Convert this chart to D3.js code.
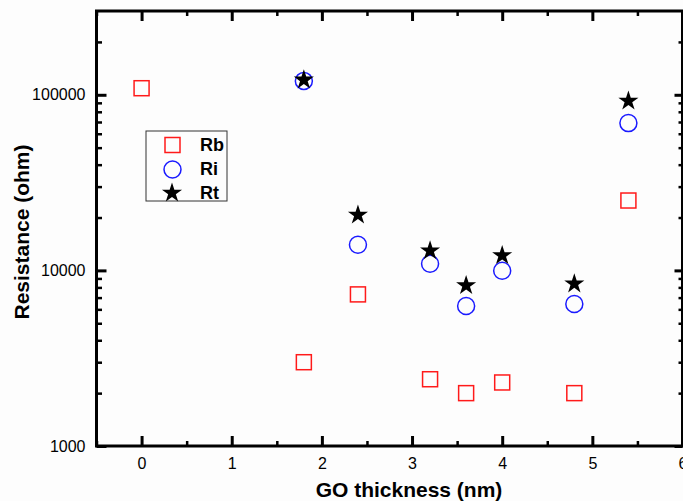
<!DOCTYPE html>
<html>
<head>
<meta charset="utf-8">
<script src="https://cdn.jsdelivr.net/npm/d3@7"></script>
<style>
  body { margin: 0; background: #fdfdfd; }
  svg { display: block; font-family: "Liberation Sans", Arial, sans-serif; }
  .tick text { font-size: 16px; fill: #000; }
  .tick line { stroke: #000; }
</style>
</head>
<body>
<div id="chart"></div>
<script>
// GO thickness (nm) for each sample
const thicknessRb = [0, 1.8, 2.4, 3.2, 3.6, 4.0, 4.8, 5.4];
const thicknessRiRt = [1.8, 2.4, 3.2, 3.6, 4.0, 4.8, 5.4];

// resistances (ohm)
const rbValues = [109000, 3000, 7300, 2400, 2000, 2300, 2000, 25000];
const riValues = [120000, 14000, 10900, 6270, 9950, 6430, 69000];
const rtValues = [124000, 21100, 13200, 8360, 12400, 8550, 94000];

const xTicks = [0, 1, 2, 3, 4, 5, 6];
const xMinorTicks = [-0.5, 0.5, 1.5, 2.5, 3.5, 4.5, 5.5];
const yTicks = [1000, 10000, 100000];
const yMinorTicks = [2000, 3000, 4000, 5000, 6000, 7000, 8000, 9000,
  20000, 30000, 40000, 50000, 60000, 70000, 80000, 90000, 200000];

const width = 683;
const height = 501;
const plotLeft = 96.5, plotRight = 682.5, plotTop = 11, plotBottom = 446;

const svg = d3.select('#chart').append('svg')
  .attr('width', width)
  .attr('height', height);

const x = d3.scaleLinear().domain([-0.5, 6]).range([plotLeft, plotRight]);
const y = d3.scaleLog().domain([1000, 300000]).range([plotBottom, plotTop]);

// ticks all point into the plot, so tick sizes are negative
function drawAxis(axis, tx, ty, major, minor, values, minorValues, labels) {
  const g = svg.append('g').attr('transform', `translate(${tx},${ty})`);
  g.call(axis.tickValues(values).tickSize(major).tickPadding(labels ? 12 : 0)
    .tickFormat(labels ? d3.format('d') : ''));
  g.selectAll('.tick line').attr('stroke-width', 3);
  g.select('.domain').remove();
  const gm = svg.append('g').attr('transform', `translate(${tx},${ty})`);
  gm.call(axis.tickValues(minorValues).tickSize(minor).tickFormat(''));
  gm.selectAll('.tick line').attr('stroke-width', 2.5);
  gm.select('.domain').remove();
  return g;
}

drawAxis(d3.axisBottom(x), 0, plotBottom, -10, -5, xTicks, xMinorTicks, true);
drawAxis(d3.axisTop(x), 0, plotTop, -10, -5, xTicks, xMinorTicks, false);
const yAxisG = drawAxis(d3.axisLeft(y), plotLeft, 0, -10, -5.5, yTicks, yMinorTicks, true);
yAxisG.selectAll('.tick text').attr('x', -11);
drawAxis(d3.axisRight(y), plotRight, 0, -8, -4, yTicks, yMinorTicks, false);

svg.append('rect')
  .attr('x', plotLeft).attr('y', plotTop)
  .attr('width', plotRight - plotLeft).attr('height', plotBottom - plotTop)
  .attr('fill', 'none')
  .attr('stroke', '#000')
  .attr('stroke-width', 3);

// axis titles
svg.append('text')
  .attr('x', 409).attr('y', 497)
  .attr('text-anchor', 'middle')
  .attr('font-weight', 'bold')
  .attr('font-size', 21)
  .text('GO thickness (nm)');

svg.append('text')
  .attr('transform', 'translate(29,232) rotate(-90)')
  .attr('text-anchor', 'middle')
  .attr('font-weight', 'bold')
  .attr('font-size', 21)
  .text('Resistance (ohm)');

const sq = 15;
const starPath = d3.symbol().type(d3.symbolStar).size(125)();

// Rb: open red squares
svg.append('g').selectAll('rect')
  .data(rbValues)
  .join('rect')
    .attr('x', (d, i) => x(thicknessRb[i]) - sq / 2)
    .attr('y', d => y(d) - sq / 2)
    .attr('width', sq).attr('height', sq)
    .attr('fill', 'none')
    .attr('stroke', '#ff1a1a')
    .attr('stroke-width', 1.5);

// Ri: open blue circles
svg.append('g').selectAll('circle')
  .data(riValues)
  .join('circle')
    .attr('cx', (d, i) => x(thicknessRiRt[i]))
    .attr('cy', d => y(d))
    .attr('r', 8.5)
    .attr('fill', 'none')
    .attr('stroke', '#1a1aff')
    .attr('stroke-width', 1.5);

// Rt: filled black stars
svg.append('g').selectAll('path')
  .data(rtValues)
  .join('path')
    .attr('transform', (d, i) => `translate(${x(thicknessRiRt[i])},${y(d) + 1.5})`)
    .attr('d', starPath)
    .attr('fill', '#000');

// legend
const legend = svg.append('g');
legend.append('rect')
  .attr('x', 146).attr('y', 131)
  .attr('width', 81).attr('height', 70)
  .attr('fill', 'none')
  .attr('stroke', '#333')
  .attr('stroke-width', 1);

legend.append('rect')
  .attr('x', 172.5 - sq / 2).attr('y', 145 - sq / 2)
  .attr('width', sq).attr('height', sq)
  .attr('fill', 'none').attr('stroke', '#ff1a1a').attr('stroke-width', 1.5);
legend.append('circle')
  .attr('cx', 172.5).attr('cy', 169.5).attr('r', 8.5)
  .attr('fill', 'none').attr('stroke', '#1a1aff').attr('stroke-width', 1.5);
legend.append('path')
  .attr('transform', 'translate(172,193)')
  .attr('d', starPath)
  .attr('fill', '#000');

const legendLabels = ['Rb', 'Ri', 'Rt'];
legend.selectAll('text')
  .data(legendLabels)
  .join('text')
    .attr('x', 200)
    .attr('y', (d, i) => 151 + i * 24)
    .attr('font-weight', 'bold')
    .attr('font-size', 18)
    .text(d => d);
</script>
</body>
</html>
